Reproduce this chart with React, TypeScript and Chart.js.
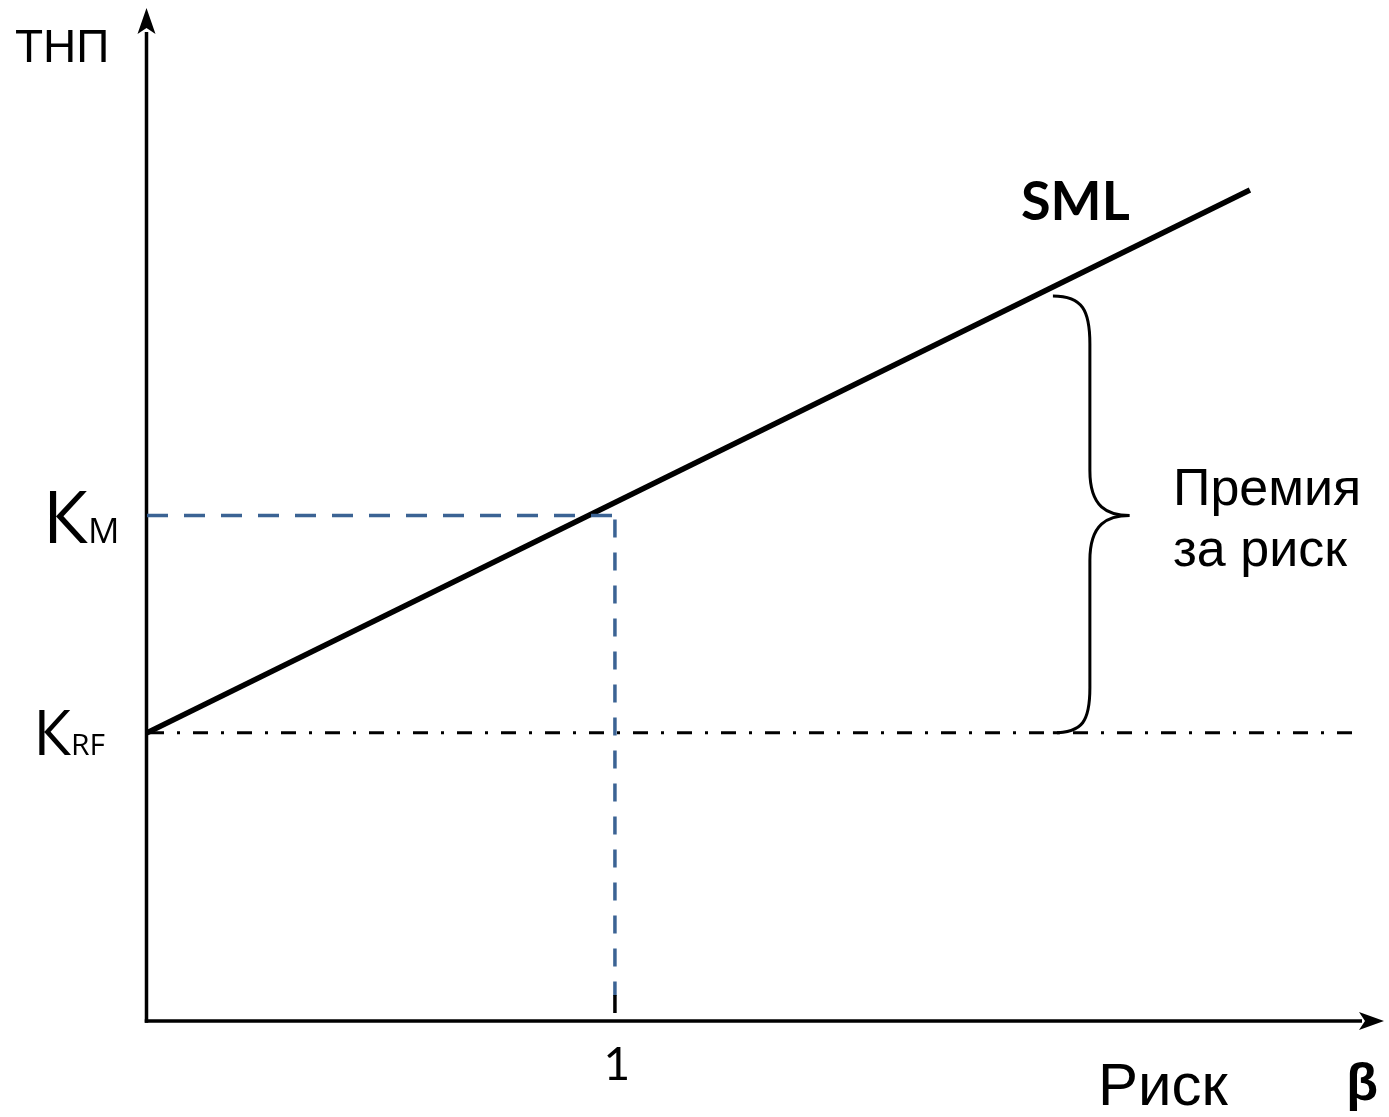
import React, { useEffect, useRef } from "react";
import { Chart, registerables } from "chart.js";

Chart.register(...registerables);

// ---- data (beta on x, expected return on y, arbitrary units) ----
const axisRange = { xMax: 2.635, yMax: 20 };
const riskFreeRate = 5.7; // K_RF
const marketReturn = 10; // K_M
const marketBeta = 1;
const smlBeta = [0, 2.357];
const smlReturn = [5.7, 16.44];
const rfLineBeta = [0, 2.581];
const braceBeta = [1.936, 2.015, 2.1]; // ends, spine, tip
const xTickLabels = ["1"];
const yLabels = { km: ["К", "M"], krf: ["К", "RF"] };
const axisTitles = { y: "ТНП", x: "Риск", beta: "β", line: "SML" };
const premiumLabel = ["Премия", "за риск"];

const BLUE = "#3B6394";

const overlay = {
  id: "overlay",
  beforeDatasetsDraw(chart: any) {
    const { ctx, chartArea } = chart;
    const { left, top, right, bottom } = chartArea;
    ctx.save();
    ctx.strokeStyle = "#000";
    ctx.fillStyle = "#000";
    ctx.lineWidth = 3.5;
    ctx.lineCap = "butt";
    // y axis
    ctx.beginPath();
    ctx.moveTo(left - 0.5, bottom + 1.75);
    ctx.lineTo(left - 0.5, top + 22);
    ctx.stroke();
    ctx.beginPath();
    ctx.moveTo(left - 0.5, top - 2);
    ctx.lineTo(left - 9.5, top + 24);
    ctx.lineTo(left - 0.5, top + 18);
    ctx.lineTo(left + 8.5, top + 24);
    ctx.closePath();
    ctx.fill();
    // x axis
    ctx.beginPath();
    ctx.moveTo(left - 2.25, bottom);
    ctx.lineTo(right - 18, bottom);
    ctx.stroke();
    ctx.beginPath();
    ctx.moveTo(right + 4, bottom);
    ctx.lineTo(right - 21, bottom - 9);
    ctx.lineTo(right - 15, bottom);
    ctx.lineTo(right - 21, bottom + 9);
    ctx.closePath();
    ctx.fill();
    ctx.restore();
  },
  afterDatasetsDraw(chart: any) {
    const { ctx, scales, chartArea } = chart;
    const xs = scales.x;
    const ys = scales.y;
    ctx.save();
    ctx.fillStyle = "#000";
    ctx.strokeStyle = "#000";

    // short black end of the beta=1 guide near the axis
    const bx = xs.getPixelForValue(marketBeta);
    ctx.lineWidth = 3.5;
    ctx.beginPath();
    ctx.moveTo(bx, chartArea.bottom - 26);
    ctx.lineTo(bx, chartArea.bottom - 8);
    ctx.stroke();

    // brace
    const slope = (smlReturn[1] - smlReturn[0]) / (smlBeta[1] - smlBeta[0]);
    const x0 = xs.getPixelForValue(braceBeta[0]);
    const xsp = xs.getPixelForValue(braceBeta[1]);
    const xt = xs.getPixelForValue(braceBeta[2]);
    const yTop = ys.getPixelForValue(smlReturn[0] + slope * braceBeta[0]) + 9;
    const yBot = ys.getPixelForValue(riskFreeRate);
    const yMid = ys.getPixelForValue(marketReturn);
    ctx.lineWidth = 3;
    ctx.beginPath();
    ctx.moveTo(x0, yTop);
    ctx.bezierCurveTo(x0 + 30, yTop, xsp, yTop + 15, xsp, yTop + 48);
    ctx.lineTo(xsp, yMid - 45);
    ctx.bezierCurveTo(xsp, yMid - 8, xt - 22, yMid, xt, yMid);
    ctx.bezierCurveTo(xt - 22, yMid, xsp, yMid + 8, xsp, yMid + 45);
    ctx.lineTo(xsp, yBot - 45);
    ctx.bezierCurveTo(xsp, yBot - 12, x0 + 30, yBot, x0, yBot);
    ctx.stroke();

    ctx.textBaseline = "alphabetic";

    // y title
    ctx.textAlign = "left";
    ctx.font = "46px 'Liberation Sans', Arial, sans-serif";
    ctx.fillText(axisTitles.y, 15, 62);

    // K_M label
    const kmY = ys.getPixelForValue(marketReturn);
    ctx.textAlign = "right";
    ctx.font = "74px 'Open Sans', sans-serif";
    ctx.fillText(yLabels.km[0], 88, kmY + 27);
    ctx.textAlign = "left";
    ctx.font = "35px 'Open Sans', sans-serif";
    ctx.fillText(yLabels.km[1], 88, kmY + 27);

    // K_RF label
    const krfY = ys.getPixelForValue(riskFreeRate);
    ctx.textAlign = "right";
    ctx.font = "62px 'Open Sans', sans-serif";
    ctx.fillText(yLabels.krf[0], 71, krfY + 22);
    ctx.textAlign = "left";
    ctx.font = "30px 'Open Sans', sans-serif";
    ctx.fillText(yLabels.krf[1], 71, krfY + 22);

    // x tick "1"
    ctx.textAlign = "center";
    ctx.font = "46px Lato, sans-serif";
    ctx.fillText(xTickLabels[0], bx + 2, 1080);

    // x titles
    ctx.textAlign = "left";
    ctx.font = "60px 'Liberation Sans', Arial, sans-serif";
    ctx.fillText(axisTitles.x, 1098, 1105);
    ctx.textAlign = "right";
    ctx.font = "bold 52px 'Liberation Sans', Arial, sans-serif";
    ctx.fillText(axisTitles.beta, 1378, 1100);

    // SML label
    ctx.textAlign = "left";
    ctx.font = "bold 54px Lato, sans-serif";
    ctx.fillText(axisTitles.line, 1021, 220);

    // premium label
    ctx.font = "52px 'Liberation Sans', Arial, sans-serif";
    ctx.fillText(premiumLabel[0], 1173, 505);
    ctx.fillText(premiumLabel[1], 1173, 566);

    ctx.restore();
  },
};

export default function App() {
  const ref = useRef<HTMLCanvasElement | null>(null);
  useEffect(() => {
    if (!ref.current) return;
    const chart = new Chart(ref.current, {
      type: "scatter",
      data: {
        datasets: [
          {
            label: "Km",
            data: [
              { x: 0, y: marketReturn },
              { x: marketBeta, y: marketReturn },
            ],
            showLine: true,
            borderColor: BLUE,
            borderWidth: 3.5,
            borderDash: [21, 16],
            pointRadius: 0,
          },
          {
            label: "beta1",
            data: [
              { x: marketBeta, y: marketReturn },
              { x: marketBeta, y: 0.5 },
            ],
            showLine: true,
            borderColor: BLUE,
            borderWidth: 3.5,
            borderDash: [18, 15],
            borderDashOffset: -4,
            pointRadius: 0,
          },
          {
            label: "rf",
            data: [
              { x: rfLineBeta[0], y: riskFreeRate },
              { x: rfLineBeta[1], y: riskFreeRate },
            ],
            showLine: true,
            borderColor: "#000",
            borderWidth: 3,
            borderDash: [15, 13, 3, 13],
            borderDashOffset: -2,
            pointRadius: 0,
          },
          {
            label: "SML",
            data: smlBeta.map((b, i) => ({ x: b, y: smlReturn[i] })),
            showLine: true,
            borderColor: "#000",
            borderWidth: 5.5,
            pointRadius: 0,
          },
        ],
      },
      options: {
        responsive: false,
        devicePixelRatio: 1,
        animation: false,
        layout: { padding: { left: 147, right: 9, top: 10, bottom: 96 } },
        plugins: {
          legend: { display: false },
          tooltip: { enabled: false },
        },
        scales: {
          x: { type: "linear", min: 0, max: axisRange.xMax, display: false },
          y: { type: "linear", min: 0, max: axisRange.yMax, display: false },
        },
      },
      plugins: [overlay],
    });
    return () => chart.destroy();
  }, []);
  return (
    <div style={{ position: "absolute", left: 0, top: 0, width: 1389, height: 1117, background: "#fff" }}>
      <canvas ref={ref} width={1389} height={1117} />
    </div>
  );
}
